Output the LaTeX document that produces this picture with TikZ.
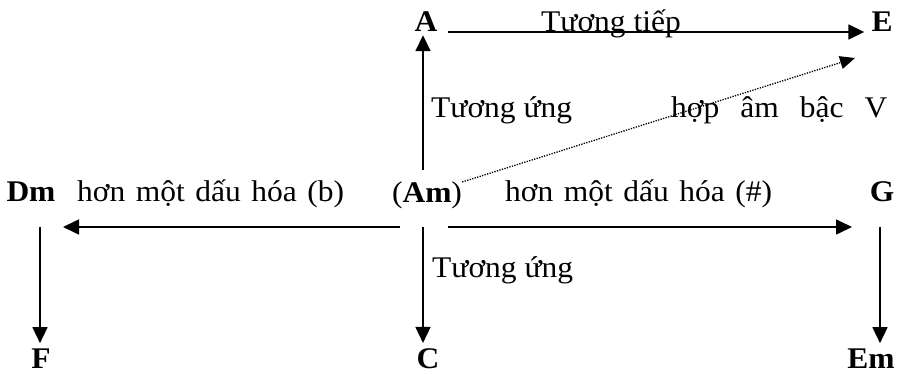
\documentclass[tikz,border=0pt]{standalone}
\usepackage{fontspec}
\setmainfont[FakeStretch=1.05]{Liberation Serif}
\usetikzlibrary{calc, positioning}
\usetikzlibrary{arrows.meta}

\begin{document}
\begin{tikzpicture}[x=1pt,y=-1pt,
  font=\fontsize{30}{34}\selectfont,
  chord/.style={font=\fontsize{30}{34}\selectfont\bfseries, inner sep=0pt, anchor=base},
  lbl/.style={inner sep=0pt, anchor=base west},
  widesp/.style={execute at begin node={\spaceskip=#1\relax}},
  arr/.style={-{Triangle[length=16pt,width=15pt]}, line width=1.6pt},
  dotarr/.style={-{Triangle[length=15pt,width=13pt]}, line width=1.3pt, dash pattern=on 1.3pt off 1.3pt}]
\useasboundingbox (0,0) rectangle (919,374);

% chords
\node[chord] (A)  at (426,32)  {A};
\node[chord] (E)  at (882,32)  {E};
\node[chord] (Dm) at (31,202)  {Dm};
\node[chord] (Am) at (427,203) {\mdseries(\bfseries Am\mdseries)};
\node[chord] (G)  at (882,202) {G};
\node[chord] (F)  at (41,368)  {F};
\node[chord] (C)  at (428,368) {C};
\node[chord] (Em) at (871,368) {Em};

% labels
\node[lbl] (tieptop)  at (541,32)  {Tương tiếp};
\node[lbl] (ungtop)   at (431,118) {Tương ứng};
\node[lbl, widesp=21pt] (bacV) at (671,118) {hợp âm bậc V};
\node[lbl, widesp=10.5pt] (flat)  at (77,202)  {hơn một dấu hóa (b)};
\node[lbl, widesp=10.5pt] (sharp) at (505,202) {hơn một dấu hóa (\#)};
\node[lbl] (ungbot)   at (432,278) {Tương ứng};

\coordinate (hub)   at (423,227);
\coordinate (dmhub) at (40,227);
\coordinate (ghub)  at (880,227);
\coordinate (vtip)  at (855,58);

\draw[arr, shorten <=10pt, shorten >=7pt] (A.base east) -- (E.base west);
\draw[arr, shorten <=12pt, shorten >=3pt] (hub |- Am.north) -- (hub |- A.south);
\draw[dotarr] (Am.north east) -- (vtip);
\draw[arr, shorten <=23pt, shorten >=23pt] (hub) -- (dmhub);
\draw[arr, shorten <=25pt, shorten >=28pt] (hub) -- (ghub);
\draw[arr, shorten >=5pt] (dmhub) -- (dmhub |- F.north);
\draw[arr, shorten >=5pt] (hub) -- (hub |- C.north);
\draw[arr, shorten >=5pt] (ghub) -- (ghub |- Em.north);

\end{tikzpicture}
\end{document}
